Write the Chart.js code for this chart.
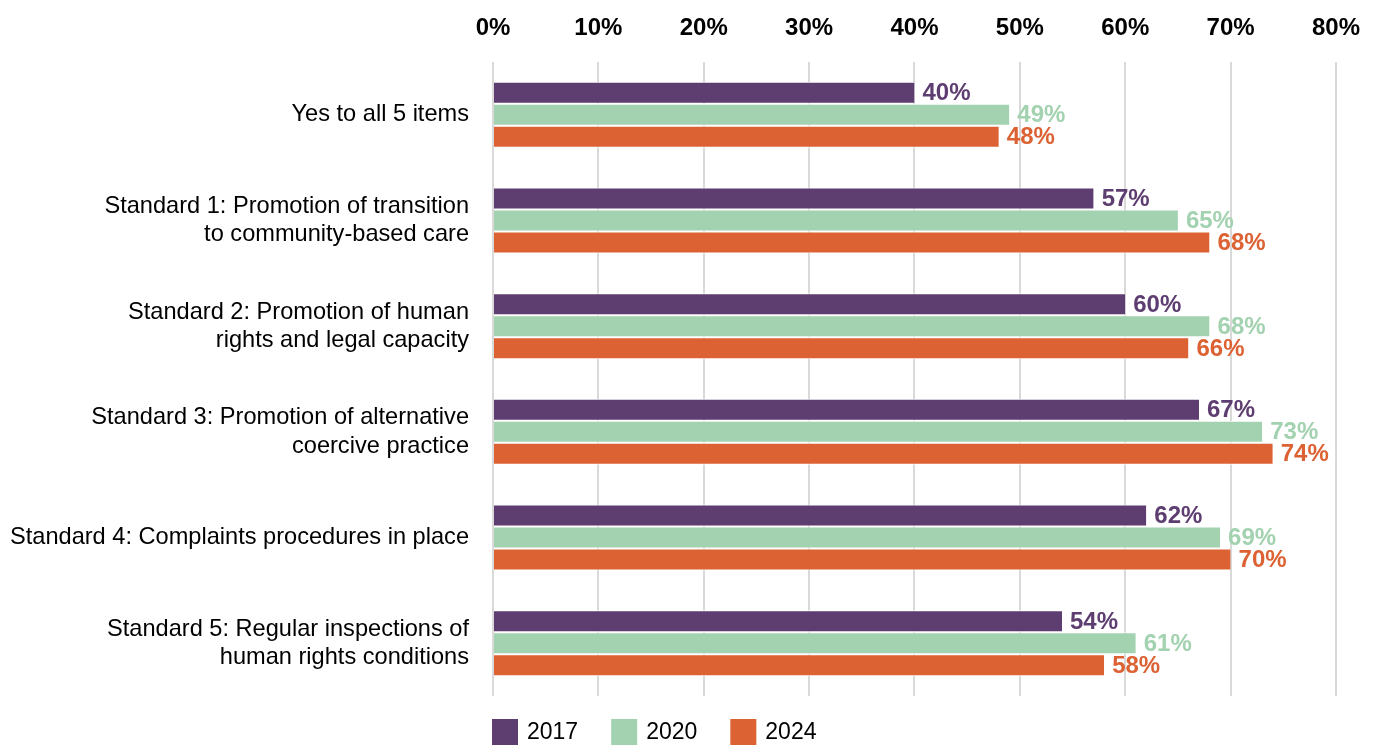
<!DOCTYPE html>
<html lang="en">
<head>
  <meta charset="UTF-8">
  <title>Standards</title>
  <script src="https://cdn.jsdelivr.net/npm/chart.js"></script>
  <style>
    html, body { margin: 0; padding: 0; background: #fff; }
    #wrap { width: 1379px; height: 745px; }
  </style>
</head>
<body>
  <div id="wrap"><canvas id="grafica"></canvas></div>

  <script>
    const categorias = [
      ["Yes to all 5 items"],
      ["Standard 1: Promotion of transition", "to community-based care"],
      ["Standard 2: Promotion of human", "rights and legal capacity"],
      ["Standard 3: Promotion of alternative", "coercive practice"],
      ["Standard 4: Complaints procedures in place"],
      ["Standard 5: Regular inspections of", "human rights conditions"]
    ];
    const anios = ["2017", "2020", "2024"];
    const valores2017 = [40, 57, 60, 67, 62, 54];
    const valores2020 = [49, 65, 68, 73, 69, 61];
    const valores2024 = [48, 68, 66, 74, 70, 58];
    const colores = ["#5E3D70", "#A3D2B0", "#DC6234"];
    const ticksX = [0, 10, 20, 30, 40, 50, 60, 70, 80];

    const fuente = "'Liberation Sans', Arial, sans-serif";

    // etiquetas de valor a la derecha de cada barra
    const etiquetas = {
      id: "etiquetas",
      afterDatasetsDraw(chart) {
        const ctx = chart.ctx;
        ctx.save();
        ctx.font = "bold 24px " + fuente;
        ctx.textAlign = "left";
        ctx.textBaseline = "middle";
        chart.data.datasets.forEach((ds, i) => {
          const meta = chart.getDatasetMeta(i);
          ctx.fillStyle = ds.backgroundColor;
          meta.data.forEach((el, j) => {
            ctx.fillText(ds.data[j] + "%", el.x + 8, el.y + 1);
          });
        });
        ctx.restore();
      }
    };

    // leyenda abajo, alineada con el inicio del área de gráfico
    const leyenda = {
      id: "leyenda",
      afterDraw(chart) {
        const ctx = chart.ctx;
        ctx.save();
        ctx.font = "23px " + fuente;
        ctx.textBaseline = "middle";
        let x = chart.chartArea.left - 1;
        const y = 719;
        chart.data.datasets.forEach(ds => {
          ctx.fillStyle = ds.backgroundColor;
          ctx.fillRect(x, y, 26, 26);
          ctx.fillStyle = "#000";
          ctx.fillText(ds.label, x + 35, y + 14);
          x += 35 + ctx.measureText(ds.label).width + 33;
        });
        ctx.restore();
      }
    };

    const serie = (label, data, color) => ({
      label, data,
      backgroundColor: color,
      borderColor: "#fff",
      borderWidth: { top: 1, bottom: 1, left: 0, right: 0 },
      borderSkipped: false,
      categoryPercentage: 0.625,
      barPercentage: 1
    });

    new Chart(document.getElementById("grafica"), {
      type: "bar",
      data: {
        labels: categorias,
        datasets: [
          serie(anios[0], valores2017, colores[0]),
          serie(anios[1], valores2020, colores[1]),
          serie(anios[2], valores2024, colores[2])
        ]
      },
      options: {
        indexAxis: "y",
        responsive: true,
        maintainAspectRatio: false,
        animation: false,
        layout: { padding: { top: 13, right: 42, bottom: 49, left: 0 } },
        plugins: {
          legend: { display: false },
          tooltip: { enabled: false }
        },
        scales: {
          x: {
            position: "top",
            min: 0,
            max: 80,
            afterBuildTicks: (s) => { s.ticks = ticksX.map(v => ({ value: v })); },
            afterFit: (s) => { s.height = 49; },
            ticks: {
              callback: v => v + "%",
              color: "#000",
              padding: 19,
              font: { family: fuente, size: 24, weight: "bold" }
            },
            grid: { color: "#D9D9D9", lineWidth: 2, drawTicks: false },
            border: { display: false }
          },
          y: {
            afterFit: (s) => { s.width = 493; s.paddingTop = 0; s.paddingBottom = 0; },
            ticks: {
              color: "#000",
              padding: 24,
              font: { family: fuente, size: 23.6, lineHeight: 1.2 }
            },
            grid: { display: false, drawTicks: false },
            border: { display: false }
          }
        }
      },
      plugins: [etiquetas, leyenda]
    });
  </script>
</body>
</html>
